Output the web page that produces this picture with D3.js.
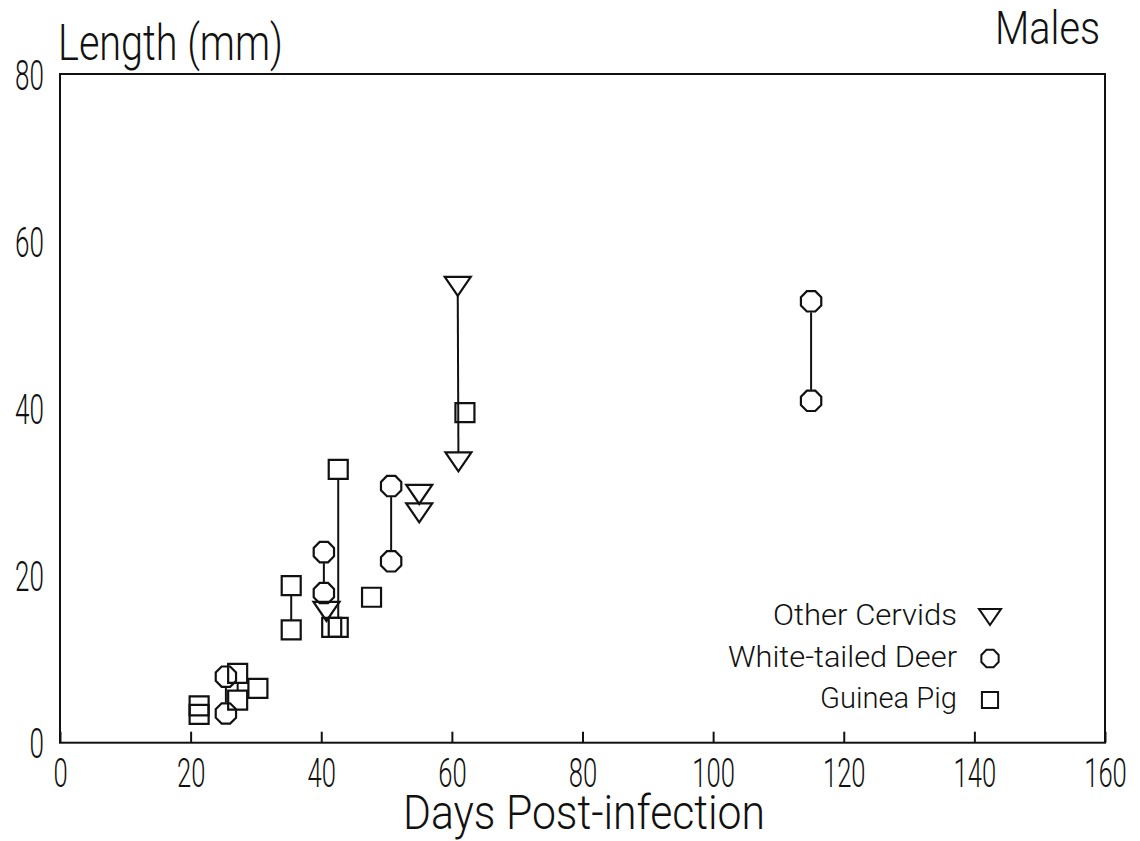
<!DOCTYPE html>
<html>
<head>
<meta charset="utf-8">
<script src="https://cdn.jsdelivr.net/npm/d3@7"></script>
<style>
  html, body { margin: 0; padding: 0; background: #fff; }
  svg { display: block; }
  text { font-family: Roboto, "DejaVu Sans", sans-serif; font-weight: 300; fill: #111; }
</style>
</head>
<body>
<svg id="chart" width="1140" height="841"></svg>
<script>
// ---- data ----
const xTicks = [0, 20, 40, 60, 80, 100, 120, 140, 160];
const yTicks = [0, 20, 40, 60, 80];

const cervidsX = [40.8, 55.0, 55.0, 60.9, 61.0];
const cervidsY = [15.7, 29.7, 27.5, 54.6, 33.6];
const cervidsLinks = [[3, 4]];

const deerX = [25.4, 25.4, 40.4, 40.4, 50.7, 50.7, 115.0, 115.0];
const deerY = [3.5, 7.9, 22.8, 17.9, 30.7, 21.7, 52.8, 40.9];
const deerLinks = [[1, 0], [2, 3], [4, 5], [6, 7]];

const pigX = [21.3, 21.3, 27.2, 27.2, 30.3, 35.4, 35.4, 41.6, 42.6, 42.6, 47.7, 62.0];
const pigY = [4.4, 3.4, 8.3, 5.1, 6.5, 18.8, 13.5, 13.8, 13.8, 32.7, 17.4, 39.5];
const pigLinks = [[2, 3], [5, 6], [9, 8]];

const legendLabels = ["Other Cervids", "White-tailed Deer", "Guinea Pig"];
const legendShapes = ["triangle", "circle", "square"];

// ---- layout ----
const svg = d3.select("#chart");
const x = d3.scaleLinear().domain([0, 160]).range([60, 1105]);
const y = d3.scaleLinear().domain([0, 80]).range([742.7, 74]);

const half = { triangle: 9.5, circle: 11, square: 9.5 };

function shapePath(shape, cx, cy, s) {
  s = s || 1;
  if (shape === "triangle") {
    const w = 13 * s, h = 9.5 * s;
    return `M${cx - w},${cy - h}L${cx + w},${cy - h}L${cx},${cy + h}Z`;
  }
  if (shape === "square") {
    const h = 9.5 * s;
    return `M${cx - h},${cy - h}H${cx + h}V${cy + h}H${cx - h}Z`;
  }
  const r = 11 * s;
  const pts = d3.range(8).map(i => {
    const a = Math.PI / 8 + i * Math.PI / 4;
    return [cx + r * Math.cos(a), cy + r * Math.sin(a)];
  });
  return "M" + pts.map(p => p.join(",")).join("L") + "Z";
}

// frame
svg.append("rect")
  .attr("x", x(0)).attr("y", y(80))
  .attr("width", x(160) - x(0)).attr("height", y(0) - y(80))
  .attr("fill", "none").attr("stroke", "#111").attr("stroke-width", 2);

// x axis
const gx = svg.append("g").attr("transform", `translate(0,${y(0)})`)
  .call(d3.axisBottom(x).tickValues(xTicks).tickSize(-11).tickFormat(d3.format("d")));
gx.select(".domain").remove();
gx.selectAll(".tick line").attr("stroke", "#111").attr("stroke-width", 2);
gx.selectAll(".tick text")
  .attr("y", 44).attr("dy", null)
  .attr("font-size", 40).attr("font-family", "Roboto, sans-serif")
  .attr("transform", "scale(0.64,1)")
  .attr("fill", "#111");

// y axis
const gy = svg.append("g").attr("transform", `translate(${x(0)},0)`)
  .call(d3.axisLeft(y).tickValues(yTicks).tickSize(0).tickFormat(d3.format("d")));
gy.select(".domain").remove();
gy.selectAll(".tick text")
  .attr("x", 0).attr("dy", "0.36em")
  .attr("font-size", 42).attr("font-family", "Roboto, sans-serif")
  .attr("transform", "translate(-16,0) scale(0.62,1)")
  .attr("fill", "#111");

// titles
svg.append("text").attr("x", 58).attr("y", 60).attr("font-size", 50)
  .attr("textLength", 225).attr("lengthAdjust", "spacingAndGlyphs").text("Length (mm)");
svg.append("text").attr("x", 995).attr("y", 44).attr("font-size", 46)
  .attr("textLength", 105).attr("lengthAdjust", "spacingAndGlyphs").text("Males");
svg.append("text").attr("x", 403).attr("y", 829).attr("font-size", 48)
  .attr("textLength", 362).attr("lengthAdjust", "spacingAndGlyphs").text("Days Post-infection");

// connecting lines
const series = [
  { shape: "triangle", xs: cervidsX, ys: cervidsY, links: cervidsLinks },
  { shape: "circle", xs: deerX, ys: deerY, links: deerLinks },
  { shape: "square", xs: pigX, ys: pigY, links: pigLinks }
];

const gLines = svg.append("g");
series.forEach(s => {
  s.links.forEach(([a, b]) => {
    const xa = x(s.xs[a]), ya = y(s.ys[a]), yb = y(s.ys[b]);
    const hi = Math.min(ya, yb), lo = Math.max(ya, yb);
    gLines.append("line")
      .attr("x1", xa).attr("x2", x(s.xs[b]))
      .attr("y1", hi + half[s.shape]).attr("y2", lo - half[s.shape])
      .attr("stroke", "#111").attr("stroke-width", 2);
  });
});

// markers
const gPts = svg.append("g");
series.forEach(s => {
  gPts.selectAll(null).data(s.xs.map((v, i) => [v, s.ys[i]])).join("path")
    .attr("d", d => shapePath(s.shape, x(d[0]), y(d[1])))
    .attr("fill", "none").attr("stroke", "#111").attr("stroke-width", 2.2);
});

// legend
const legendRight = 957, legendSymX = 990, legendY0 = 625, legendStep = 41.5;
const legendW = [184, 229, 137];
const gLeg = svg.append("g");
legendLabels.forEach((lab, i) => {
  const by = legendY0 + i * legendStep;
  gLeg.append("text").attr("x", legendRight - legendW[i]).attr("y", by)
    .attr("font-size", 30).attr("textLength", legendW[i]).attr("lengthAdjust", "spacingAndGlyphs")
    .text(lab);
  gLeg.append("path")
    .attr("d", shapePath(legendShapes[i], legendSymX, by - 8, 0.85))
    .attr("fill", "none").attr("stroke", "#111").attr("stroke-width", 2);
});
</script>
</body>
</html>
